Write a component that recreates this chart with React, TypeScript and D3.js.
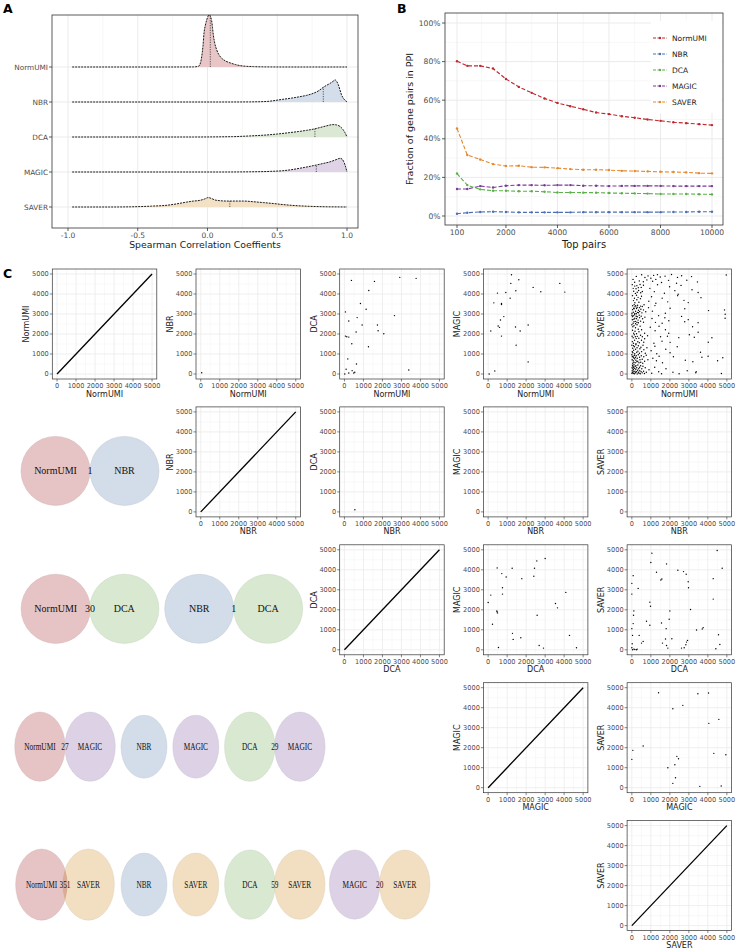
import React from "react";
import * as d3 from "d3";

const SANS = "DejaVu Sans, sans-serif";
const SERIF = "Liberation Serif, serif";

const methods = ["NormUMI", "NBR", "DCA", "MAGIC", "SAVER"];
const ridgeFills = ["#E8C6C7", "#D4DDEA", "#DBE9D4", "#DFD3E8", "#F3E1C5"];
const vennFills = ["#E6C4C5", "#D3DCE9", "#D9E9D1", "#DDD1E5", "#F2DFC1"];
const lineColors = ["#C1272D", "#4A6FB5", "#5BB04A", "#7A3B96", "#E5892E"];

// ---- panel A: density ridges (x = correlation, h = height in ridge units)
const densNormUMI = [[-0.97, 0], [-0.3, 0], [-0.1, 0.002], [-0.065, 0.02], [-0.05, 0.12], [-0.042, 0.29], [-0.032, 0.62], [-0.025, 0.97], [-0.015, 1.2], [-0.006, 1.34], [0.005, 1.46], [0.013, 1.49], [0.022, 1.44], [0.03, 1.32], [0.036, 1.12], [0.042, 0.91], [0.052, 0.68], [0.066, 0.49], [0.082, 0.35], [0.102, 0.25], [0.13, 0.17], [0.161, 0.12], [0.2, 0.07], [0.233, 0.04], [0.28, 0.02], [0.33, 0.01], [0.45, 0.002], [0.6, 0], [1.0, 0]];
const densNBR = [[-0.97, 0], [0.1, 0], [0.3, 0.003], [0.42, 0.015], [0.54, 0.077], [0.6, 0.11], [0.66, 0.15], [0.71, 0.19], [0.76, 0.25], [0.8, 0.33], [0.83, 0.42], [0.855, 0.48], [0.878, 0.53], [0.9, 0.59], [0.914, 0.63], [0.926, 0.59], [0.938, 0.49], [0.95, 0.34], [0.961, 0.2], [0.975, 0.1], [0.986, 0.05], [1.0, 0]];
const densDCA = [[-0.97, 0], [-0.1, 0], [0.18, 0.01], [0.3, 0.03], [0.42, 0.057], [0.5, 0.085], [0.59, 0.126], [0.65, 0.155], [0.71, 0.19], [0.76, 0.225], [0.806, 0.27], [0.85, 0.315], [0.9, 0.354], [0.925, 0.345], [0.95, 0.3], [0.97, 0.22], [0.986, 0.12], [1.0, 0]];
const densMAGIC = [[-0.97, 0], [0.1, 0], [0.3, 0.005], [0.45, 0.018], [0.54, 0.037], [0.6, 0.065], [0.66, 0.106], [0.72, 0.15], [0.78, 0.2], [0.83, 0.245], [0.878, 0.29], [0.92, 0.35], [0.95, 0.39], [0.965, 0.37], [0.976, 0.3], [0.986, 0.2], [1.0, 0]];
const densSAVER = [[-0.97, 0], [-0.7, 0], [-0.55, 0.005], [-0.48, 0.012], [-0.4, 0.025], [-0.29, 0.05], [-0.22, 0.09], [-0.15, 0.14], [-0.1, 0.17], [-0.054, 0.19], [-0.02, 0.23], [0.006, 0.27], [0.03, 0.24], [0.054, 0.2], [0.09, 0.18], [0.138, 0.17], [0.2, 0.17], [0.257, 0.17], [0.33, 0.15], [0.4, 0.126], [0.47, 0.1], [0.54, 0.07], [0.63, 0.04], [0.73, 0.02], [0.85, 0.006], [0.95, 0.002], [1.0, 0]];
const densities = [densNormUMI, densNBR, densDCA, densMAGIC, densSAVER];
const medians = [0.02, 0.83, 0.77, 0.78, 0.16];
const corrTicks = [-1, -0.5, 0, 0.5, 1];
const corrMinor = [-0.75, -0.25, 0.25, 0.75];

// ---- panel B: fraction of top pairs found in PPI (%)
const topPairs = [100, 500, 1000, 1500, 2000, 2500, 3000, 3500, 4000, 4500, 5000, 5500, 6000, 6500, 7000, 7500, 8000, 8500, 9000, 9500, 10000];
const fracNormUMI = [80.2, 77.8, 77.8, 76.4, 71, 66.9, 63.8, 60.9, 58.6, 56.9, 55.3, 53.6, 52.8, 51.7, 50.9, 50, 49.3, 48.6, 48.1, 47.6, 47.1];
const fracNBR = [1.2, 1.7, 2.1, 2.2, 2.1, 1.9, 1.9, 1.9, 1.9, 1.9, 2, 2, 2, 2, 2, 2, 2, 2.1, 2.1, 2.2, 2.2];
const fracDCA = [22, 16, 13.8, 13.1, 13.1, 12.8, 12.8, 12.6, 12.2, 12.2, 12.1, 12.1, 11.9, 11.8, 11.7, 11.6, 11.4, 11.4, 11.4, 11.3, 11.2];
const fracMAGIC = [14, 14, 15.5, 14.8, 15.7, 16, 16, 15.9, 16, 16, 15.7, 15.7, 15.5, 15.6, 15.6, 15.6, 15.6, 15.5, 15.5, 15.5, 15.5];
const fracSAVER = [45.3, 31.6, 29.3, 26.9, 25.9, 26, 25.3, 25.2, 24.8, 24.3, 24, 24, 23.8, 23.4, 23.3, 23.1, 22.9, 22.8, 22.6, 22.2, 22.1];
const fracSeries = [fracNormUMI, fracNBR, fracDCA, fracMAGIC, fracSAVER];
const pairTicks = [100, 2000, 4000, 6000, 8000, 10000];
const pairMinor = [1050, 3000, 5000, 7000, 9000];
const fracTicks = [0, 20, 40, 60, 80, 100];
const fracMinor = [10, 30, 50, 70, 90];

// ---- panel C: ranks of shared top pairs (x = row method, y = column method)
const rankTicks = [0, 1000, 2000, 3000, 4000, 5000];
const rankMinor = [500, 1500, 2500, 3500, 4500];
const ptsNormUMI_NBR = [[50, 65]];
const ptsNormUMI_DCA = [[368, 4681], [1579, 4631], [2912, 4832], [3772, 4782], [1281, 4178], [842, 3523], [1140, 3238], [53, 3104], [2632, 2919], [228, 2651], [667, 2819], [930, 2450], [1737, 2450], [1772, 2164], [614, 2097], [2070, 2013], [53, 1896], [123, 1862], [228, 1846], [386, 1510], [1263, 1359], [175, 755], [632, 503], [88, 235], [404, 168], [228, 50], [491, 50], [544, 84], [18, 0], [3386, 201]];
const ptsNormUMI_MAGIC = [[53, 0], [351, 151], [140, 2148], [298, 3557], [491, 4044], [702, 3523], [702, 3473], [649, 2701], [526, 2399], [702, 1896], [596, 2332], [825, 2869], [930, 4077], [1193, 4530], [1228, 4966], [1158, 3792], [1456, 4161], [1614, 4715], [1439, 2349], [1474, 1443], [1684, 2148], [2105, 2450], [2105, 604], [2368, 4329], [2772, 4111], [3772, 4530], [4035, 4094]];
const ptsNormUMI_SAVER = [
  [62, 4730], [148, 4590], [233, 4880], [391, 4655], [517, 4960], [604, 4612], [688, 4822], [791, 4705], [853, 4905], [1002, 4788], [1094, 4640], [1146, 4930], [1262, 4731], [1347, 4968], [1493, 4852], [1561, 4577], [1748, 4893], [1931, 4683], [2087, 4974], [2352, 4541], [2401, 4829], [2618, 4915], [2893, 4689], [3141, 4870], [3452, 4604], [4968, 4947],
  [23, 4467], [71, 4283], [98, 4139], [152, 4396], [188, 4031], [221, 4262], [263, 4418], [284, 4087], [341, 4318], [357, 4177], [433, 4473], [468, 4066], [492, 4331], [553, 4128], [611, 4437], [947, 4282], [1183, 4117], [1352, 4461], [1713, 4039], [1987, 4366], [2264, 4168], [2437, 3987], [2589, 4431], [3167, 4213], [3488, 4072],
  [34, 3917], [87, 3669], [137, 3786], [161, 3562], [244, 3941], [263, 3714], [327, 3832], [371, 3587], [452, 3768], [508, 3889], [893, 3637], [1038, 3866], [1264, 3534], [1597, 3792], [1887, 3608], [2408, 3918], [2744, 3683], [2967, 3571], [3638, 3817],
  [6, 3034], [38, 3217], [44, 3412], [77, 3091], [96, 3288], [118, 3263], [124, 3467], [157, 3027], [166, 3361], [198, 3139], [204, 3418], [236, 3011], [247, 3272], [279, 3336], [296, 3083], [303, 3441], [347, 3188], [352, 3066], [398, 3317], [413, 3131], [457, 3394], [474, 3237], [529, 3058], [548, 3372], [613, 3206], [642, 3463], [731, 3112], [877, 3318], [1083, 3142], [1216, 3419], [1764, 3037], [2013, 3284], [2786, 3261], [4036, 3171], [4877, 3205], [4912, 2985],
  [4, 2938], [27, 2716], [33, 2867], [68, 2541], [74, 2912], [107, 2738], [113, 2617], [146, 2966], [153, 2784], [187, 2633], [196, 2512], [228, 2887], [243, 2767], [268, 2588], [284, 2861], [327, 2694], [342, 2563], [387, 2941], [404, 2817], [458, 2642], [493, 2893], [567, 2761], [614, 2589], [687, 2843], [1062, 2772], [1241, 2583], [1407, 2917], [1594, 2536], [1738, 2814], [1946, 2663], [2617, 2881], [2783, 2612], [2968, 2718], [3486, 2567], [4908, 2785],
  [3, 2463], [37, 2188], [54, 2364], [97, 2041], [113, 2418], [167, 2139], [193, 2312], [247, 2013], [273, 2466], [336, 2237], [374, 2114], [437, 2392], [513, 2214], [673, 2037], [968, 2341], [1224, 2163], [1431, 2387], [1767, 2216], [1941, 2034], [3196, 2362], [3488, 2087],
  [14, 1887], [26, 1617], [67, 1812], [84, 1536], [127, 1966], [143, 1688], [186, 1863], [217, 1512], [232, 1771], [287, 1883], [313, 1614], [368, 1787], [393, 1563], [457, 1941], [508, 1684], [553, 1862], [627, 1587], [674, 1764], [827, 1913], [1163, 1538], [1512, 1866], [1588, 1642], [1873, 1889], [2014, 1583], [2471, 1817], [3027, 1962], [3286, 1838], [4213, 1814], [4021, 1588],
  [2, 1437], [24, 1113], [46, 1287], [53, 1062], [87, 1414], [94, 1188], [137, 1362], [154, 1013], [196, 1236], [213, 1463], [257, 1087], [274, 1314], [317, 1142], [343, 1411], [397, 1038], [424, 1263], [476, 1337], [514, 1118], [587, 1441], [633, 1213], [707, 1037], [793, 1316], [1013, 1163], [1214, 1387], [1313, 1012], [1786, 1238], [2011, 1063], [2387, 1362], [3613, 1087],
  [1, 963], [17, 712], [26, 863], [48, 537], [63, 887], [72, 663], [93, 812], [106, 587], [134, 938], [147, 763], [176, 562], [187, 841], [214, 688], [231, 913], [264, 612], [283, 788], [314, 637], [337, 962], [374, 563], [406, 837], [427, 713], [467, 588], [497, 913], [546, 737], [574, 537], [627, 862], [673, 637], [757, 938], [846, 712], [1106, 788], [1293, 663], [1434, 887], [1613, 563], [2187, 862], [2814, 688], [3212, 612], [3688, 838], [4013, 887], [4514, 663], [4787, 812],
  [3, 37], [12, 312], [18, 162], [33, 437], [37, 88], [54, 263], [57, 388], [73, 24], [83, 213], [87, 337], [104, 112], [112, 463], [133, 13], [147, 288], [163, 137], [171, 387], [194, 63], [208, 237], [216, 412], [244, 113], [257, 312], [283, 6], [304, 187], [316, 448], [343, 87], [364, 263], [377, 37], [404, 337], [417, 163], [443, 12], [463, 413], [487, 112], [524, 263], [547, 57], [583, 387], [617, 138], [663, 28], [704, 312], [764, 87], [903, 213], [1047, 37], [1204, 337], [1413, 112], [1563, 13], [1796, 262], [2163, 87], [2487, 12], [2913, 163], [3363, 63], [3387, 113], [4713, 27]
];
const ptsNBR_DCA = [[550, 110]];
const ptsNBR_MAGIC: number[][] = [];
const ptsNBR_SAVER: number[][] = [];
const ptsDCA_MAGIC = [[0, 2366], [140, 2735], [228, 1275], [474, 4094], [456, 1946], [491, 1846], [470, 1900], [544, 117], [719, 3809], [754, 3104], [754, 2785], [947, 3641], [1281, 822], [1316, 520], [1263, 4077], [1772, 3557], [1719, 604], [2404, 3674], [2439, 4077], [2561, 4446], [2579, 1728], [2684, 218], [2912, 84], [3000, 4564], [3544, 2315], [3649, 2097], [4088, 2869], [4281, 721], [4649, 101]];
const ptsDCA_SAVER = [[0, 101], [35, 0], [105, 34], [246, 0], [0, 3322], [0, 2785], [70, 3708], [35, 721], [70, 1309], [88, 1728], [105, 1946], [0, 1057], [333, 3070], [386, 721], [509, 336], [596, 419], [772, 1426], [947, 1225], [1000, 4362], [1053, 4832], [947, 2383], [982, 2181], [1298, 3876], [1526, 3490], [1579, 3540], [1561, 1342], [1614, 336], [1772, 537], [1807, 1057], [1825, 4295], [1825, 218], [1895, 84], [1965, 1527], [2000, 1946], [2105, 554], [2421, 3977], [2614, 84], [2719, 3909], [2754, 101], [2842, 252], [2860, 3775], [2877, 386], [2930, 470], [2965, 3406], [2982, 3104], [3088, 2013], [3404, 990], [3702, 1040], [3754, 1107], [4281, 3557], [4281, 2534], [4421, 50], [4491, 4966], [4561, 755], [4632, 268], [4754, 4077], [158, 17], [281, 34], [18, 300]];
const ptsMAGIC_SAVER = [[1404, 4750], [3474, 4700], [4035, 4733], [2684, 4117], [2158, 3950], [4579, 3417], [4053, 3217], [596, 2083], [53, 1867], [0, 1417], [4316, 1717], [4947, 1650], [2368, 1567], [2456, 1450], [2263, 1150], [1895, 1000], [2298, 500], [2158, 217], [3579, 67], [4702, 83]];

const scatterPoints: Record<string, number[][]> = {
  "0-1": ptsNormUMI_NBR, "0-2": ptsNormUMI_DCA, "0-3": ptsNormUMI_MAGIC, "0-4": ptsNormUMI_SAVER,
  "1-2": ptsNBR_DCA, "1-3": ptsNBR_MAGIC, "1-4": ptsNBR_SAVER,
  "2-3": ptsDCA_MAGIC, "2-4": ptsDCA_SAVER,
  "3-4": ptsMAGIC_SAVER,
};

// shared pairs between two methods (venn overlap)
const vennPairs = [
  { a: 0, b: 1, n: 1 }, { a: 0, b: 2, n: 30 }, { a: 1, b: 2, n: 1 },
  { a: 0, b: 3, n: 27 }, { a: 1, b: 3, n: 0 }, { a: 2, b: 3, n: 29 },
  { a: 0, b: 4, n: 351 }, { a: 1, b: 4, n: 0 }, { a: 2, b: 4, n: 59 }, { a: 3, b: 4, n: 20 },
];

function PanelA() {
  const x = d3.scaleLinear().domain([-1, 1]).range([68, 347]);
  const y = d3.scalePoint<string>().domain(methods).range([67, 207]);
  const k = 35;
  const top = 15, bottom = 228, left = 52, right = 358;
  return (
    <g>
      <text x={3} y={13} fontSize={12.5} fontWeight="bold">A</text>
      {corrMinor.map(v => <line key={"m" + v} x1={x(v)} x2={x(v)} y1={top} y2={bottom} stroke="#F2F2F2" strokeWidth={0.6} />)}
      {corrTicks.map(v => <line key={"g" + v} x1={x(v)} x2={x(v)} y1={top} y2={bottom} stroke="#EBEBEB" strokeWidth={1} />)}
      {methods.map(m => <line key={"h" + m} x1={left} x2={right} y1={y(m)} y2={y(m)} stroke="#EBEBEB" strokeWidth={1} />)}
      {methods.map((m, i) => {
        const base = y(m) as number;
        const dens = densities[i];
        const area = d3.area<number[]>().x(d => x(d[0])).y0(base).y1(d => base - d[1] * k).curve(d3.curveMonotoneX);
        const line = d3.line<number[]>().x(d => x(d[0])).y(d => base - d[1] * k).curve(d3.curveMonotoneX);
        const hAt = d3.scaleLinear().domain(dens.map(d => d[0])).range(dens.map(d => d[1]));
        return (
          <g key={m}>
            <path d={area(dens) || ""} fill={ridgeFills[i]} />
            <line x1={x(medians[i])} x2={x(medians[i])} y1={base} y2={base - hAt(medians[i]) * k} stroke="#333" strokeWidth={0.8} strokeDasharray="1.2,1.2" />
            <path d={line(dens) || ""} fill="none" stroke="#1a1a1a" strokeWidth={1} strokeDasharray="2,1" />
          </g>
        );
      })}
      <rect x={left} y={top} width={right - left} height={bottom - top} fill="none" stroke="#333" strokeWidth={0.8} />
      {methods.map(m => (
        <g key={"yt" + m}>
          <line x1={left - 3} x2={left} y1={y(m)} y2={y(m)} stroke="#333" strokeWidth={0.8} />
          <text x={left - 4} y={y(m)} dy="0.35em" textAnchor="end" fontSize={7.3} fill="#4D4D4D">{m}</text>
        </g>
      ))}
      {corrTicks.map(v => (
        <g key={"xt" + v}>
          <line x1={x(v)} x2={x(v)} y1={bottom} y2={bottom + 3} stroke="#333" strokeWidth={0.8} />
          <text x={x(v)} y={bottom + 10} textAnchor="middle" fontSize={7.5} fill="#4D4D4D">{d3.format(".1f")(v).replace("−", "-")}</text>
        </g>
      ))}
      <text x={(left + right) / 2} y={248} textAnchor="middle" fontSize={9.3} fill="#1a1a1a">Spearman Correlation Coeffients</text>
    </g>
  );
}

function PanelB() {
  const x = d3.scaleLinear().domain([100, 10000]).range([457, 712]);
  const y = d3.scaleLinear().domain([0, 100]).range([216, 23]);
  const left = 445, right = 723, top = 13, bottom = 225;
  const line = d3.line<number>().x((_, i) => x(topPairs[i])).y(d => y(d));
  const legendY = d3.scalePoint<string>().domain(methods).range([38, 102]);
  return (
    <g>
      <text x={397} y={13} fontSize={12.5} fontWeight="bold">B</text>
      {fracMinor.map(v => <line key={"ym" + v} x1={left} x2={right} y1={y(v)} y2={y(v)} stroke="#F2F2F2" strokeWidth={0.6} />)}
      {pairMinor.map(v => <line key={"xm" + v} x1={x(v)} x2={x(v)} y1={top} y2={bottom} stroke="#F2F2F2" strokeWidth={0.6} />)}
      {fracTicks.map(v => <line key={"yg" + v} x1={left} x2={right} y1={y(v)} y2={y(v)} stroke="#EBEBEB" strokeWidth={1} />)}
      {pairTicks.map(v => <line key={"xg" + v} x1={x(v)} x2={x(v)} y1={top} y2={bottom} stroke="#EBEBEB" strokeWidth={1} />)}
      {fracSeries.map((s, i) => (
        <g key={methods[i]}>
          <path d={line(s) || ""} fill="none" stroke={lineColors[i]} strokeWidth={1.1} strokeDasharray="4,2" />
          {s.map((v, j) => <circle key={j} cx={x(topPairs[j])} cy={y(v)} r={1.2} fill={lineColors[i]} />)}
        </g>
      ))}
      <rect x={651} y={21} width={71} height={92} fill="#fff" />
      {methods.map((m, i) => (
        <g key={"lg" + m}>
          <line x1={653} x2={667} y1={legendY(m)} y2={legendY(m)} stroke={lineColors[i]} strokeWidth={1.1} strokeDasharray="3,1.5" />
          <circle cx={660} cy={legendY(m)} r={1.2} fill={lineColors[i]} />
          <text x={672} y={legendY(m)} dy="0.35em" fontSize={7.5} fill="#1a1a1a">{m}</text>
        </g>
      ))}
      <rect x={left} y={top} width={right - left} height={bottom - top} fill="none" stroke="#333" strokeWidth={0.8} />
      {fracTicks.map(v => (
        <g key={"yt" + v}>
          <line x1={left - 3} x2={left} y1={y(v)} y2={y(v)} stroke="#333" strokeWidth={0.8} />
          <text x={left - 4.5} y={y(v)} dy="0.35em" textAnchor="end" fontSize={7.6} fill="#4D4D4D">{v + "%"}</text>
        </g>
      ))}
      {pairTicks.map(v => (
        <g key={"xt" + v}>
          <line x1={x(v)} x2={x(v)} y1={bottom} y2={bottom + 3} stroke="#333" strokeWidth={0.8} />
          <text x={x(v)} y={bottom + 10} textAnchor="middle" fontSize={7.6} fill="#4D4D4D">{v}</text>
        </g>
      ))}
      <text transform={`translate(410,${(top + bottom) / 2}) rotate(-90)`} dy="0.35em" textAnchor="middle" fontSize={9.5} fill="#1a1a1a">Fraction of gene pairs in PPI</text>
      <text x={584} y={248} textAnchor="middle" fontSize={9.9} fill="#1a1a1a">Top pairs</text>
    </g>
  );
}

const colLeft = d3.scaleLinear().domain([0, 4]).range([52.3, 52.3 + 4 * 143.7]);
const rowTop = d3.scaleLinear().domain([0, 4]).range([269, 269 + 4 * 137.9]);
const PW = 104.5, PH = 110;

function Scatter({ r, c }: { r: number; c: number }) {
  const left = colLeft(c), top = rowTop(r);
  const x = d3.scaleLinear().domain([-250, 5250]).range([left, left + PW]);
  const y = d3.scaleLinear().domain([-250, 5250]).range([top + PH, top]);
  const pts = r === c ? [] : scatterPoints[`${r}-${c}`];
  return (
    <g>
      <rect x={left} y={top} width={PW} height={PH} fill="#fff" />
      {rankMinor.map(v => (
        <g key={"m" + v}>
          <line x1={x(v)} x2={x(v)} y1={top} y2={top + PH} stroke="#F2F2F2" strokeWidth={0.5} />
          <line x1={left} x2={left + PW} y1={y(v)} y2={y(v)} stroke="#F2F2F2" strokeWidth={0.5} />
        </g>
      ))}
      {rankTicks.map(v => (
        <g key={"g" + v}>
          <line x1={x(v)} x2={x(v)} y1={top} y2={top + PH} stroke="#EBEBEB" strokeWidth={0.8} />
          <line x1={left} x2={left + PW} y1={y(v)} y2={y(v)} stroke="#EBEBEB" strokeWidth={0.8} />
        </g>
      ))}
      {r === c ? (
        <line x1={x(0)} y1={y(0)} x2={x(5000)} y2={y(5000)} stroke="#000" strokeWidth={1.3} />
      ) : (
        pts.map((p, i) => <circle key={i} cx={x(p[0])} cy={y(p[1])} r={0.7} fill="#000" />)
      )}
      <rect x={left} y={top} width={PW} height={PH} fill="none" stroke="#333" strokeWidth={0.7} />
      {rankTicks.map(v => (
        <g key={"t" + v}>
          <line x1={left - 2.5} x2={left} y1={y(v)} y2={y(v)} stroke="#333" strokeWidth={0.6} />
          <text x={left - 3.5} y={y(v)} dy="0.35em" textAnchor="end" fontSize={6.6} fill="#4D4D4D">{v}</text>
          <line x1={x(v)} x2={x(v)} y1={top + PH} y2={top + PH + 2.5} stroke="#333" strokeWidth={0.6} />
          <text x={x(v)} y={top + PH + 9} textAnchor="middle" fontSize={6.6} fill="#4D4D4D">{v}</text>
        </g>
      ))}
      <text x={left + PW / 2} y={top + PH + 17.5} textAnchor="middle" fontSize={8} fill="#1a1a1a">{methods[r]}</text>
      <text transform={`translate(${left - 26},${top + PH / 2}) rotate(-90)`} dy="0.35em" textAnchor="middle" fontSize={8} fill="#1a1a1a">{methods[c]}</text>
    </g>
  );
}

function Venn({ a, b, n }: { a: number; b: number; n: number }) {
  const wide = b <= 2;
  const sx = wide ? 1 : 0.73;
  const cx = (wide ? 90 : 65) + a * 143.7 * sx;
  const cy = rowTop(b) + 64;
  const rad = n === 0 ? 31.5 : 34.5 + n * 0.003;
  const dist = n === 0 ? 71 : 2 * rad - n * 0.02;
  const ca = d3.color(vennFills[a])!.rgb(), cb = d3.color(vennFills[b])!.rgb();
  const overlap = d3.rgb((ca.r * cb.r) / 255, (ca.g * cb.g) / 255, (ca.b * cb.b) / 255).formatHex();
  const id = `venn-${a}-${b}`;
  return (
    <g transform={`translate(${cx},${cy}) scale(${sx},1)`}>
      <defs>
        <clipPath id={id}><circle cx={-dist / 2} cy={0} r={rad} /></clipPath>
      </defs>
      <circle cx={-dist / 2} cy={0} r={rad} fill={vennFills[a]} stroke={d3.color(vennFills[a])!.darker(0.25).formatHex()} strokeWidth={0.5} />
      <circle cx={dist / 2} cy={0} r={rad} fill={vennFills[b]} stroke={d3.color(vennFills[b])!.darker(0.25).formatHex()} strokeWidth={0.5} />
      <circle cx={dist / 2} cy={0} r={rad} fill={overlap} clipPath={`url(#${id})`} />
      <text x={-dist / 2} y={0} dy="0.35em" textAnchor="middle" fontFamily={SERIF} fontSize={10} fill="#111">{methods[a]}</text>
      <text x={dist / 2} y={0} dy="0.35em" textAnchor="middle" fontFamily={SERIF} fontSize={10} fill="#111">{methods[b]}</text>
      {n > 0 && <text x={0} y={0} dy="0.35em" textAnchor="middle" fontFamily={SERIF} fontSize={10} fill="#111">{n}</text>}
    </g>
  );
}

function PanelC() {
  const cells: { r: number; c: number }[] = [];
  methods.forEach((_, r) => methods.forEach((__, c) => { if (c >= r) cells.push({ r, c }); }));
  return (
    <g>
      <text x={3} y={278} fontSize={12.5} fontWeight="bold">C</text>
      {cells.map(d => <Scatter key={`${d.r}-${d.c}`} r={d.r} c={d.c} />)}
      {vennPairs.map(v => <Venn key={`${v.a}-${v.b}`} a={v.a} b={v.b} n={v.n} />)}
    </g>
  );
}

export default function App() {
  return (
    <svg width={736} height={951} fontFamily={SANS} style={{ position: "absolute", left: 0, top: 0, background: "#fff" }}>
      <rect width={736} height={951} fill="#fff" />
      <PanelA />
      <PanelB />
      <PanelC />
    </svg>
  );
}
